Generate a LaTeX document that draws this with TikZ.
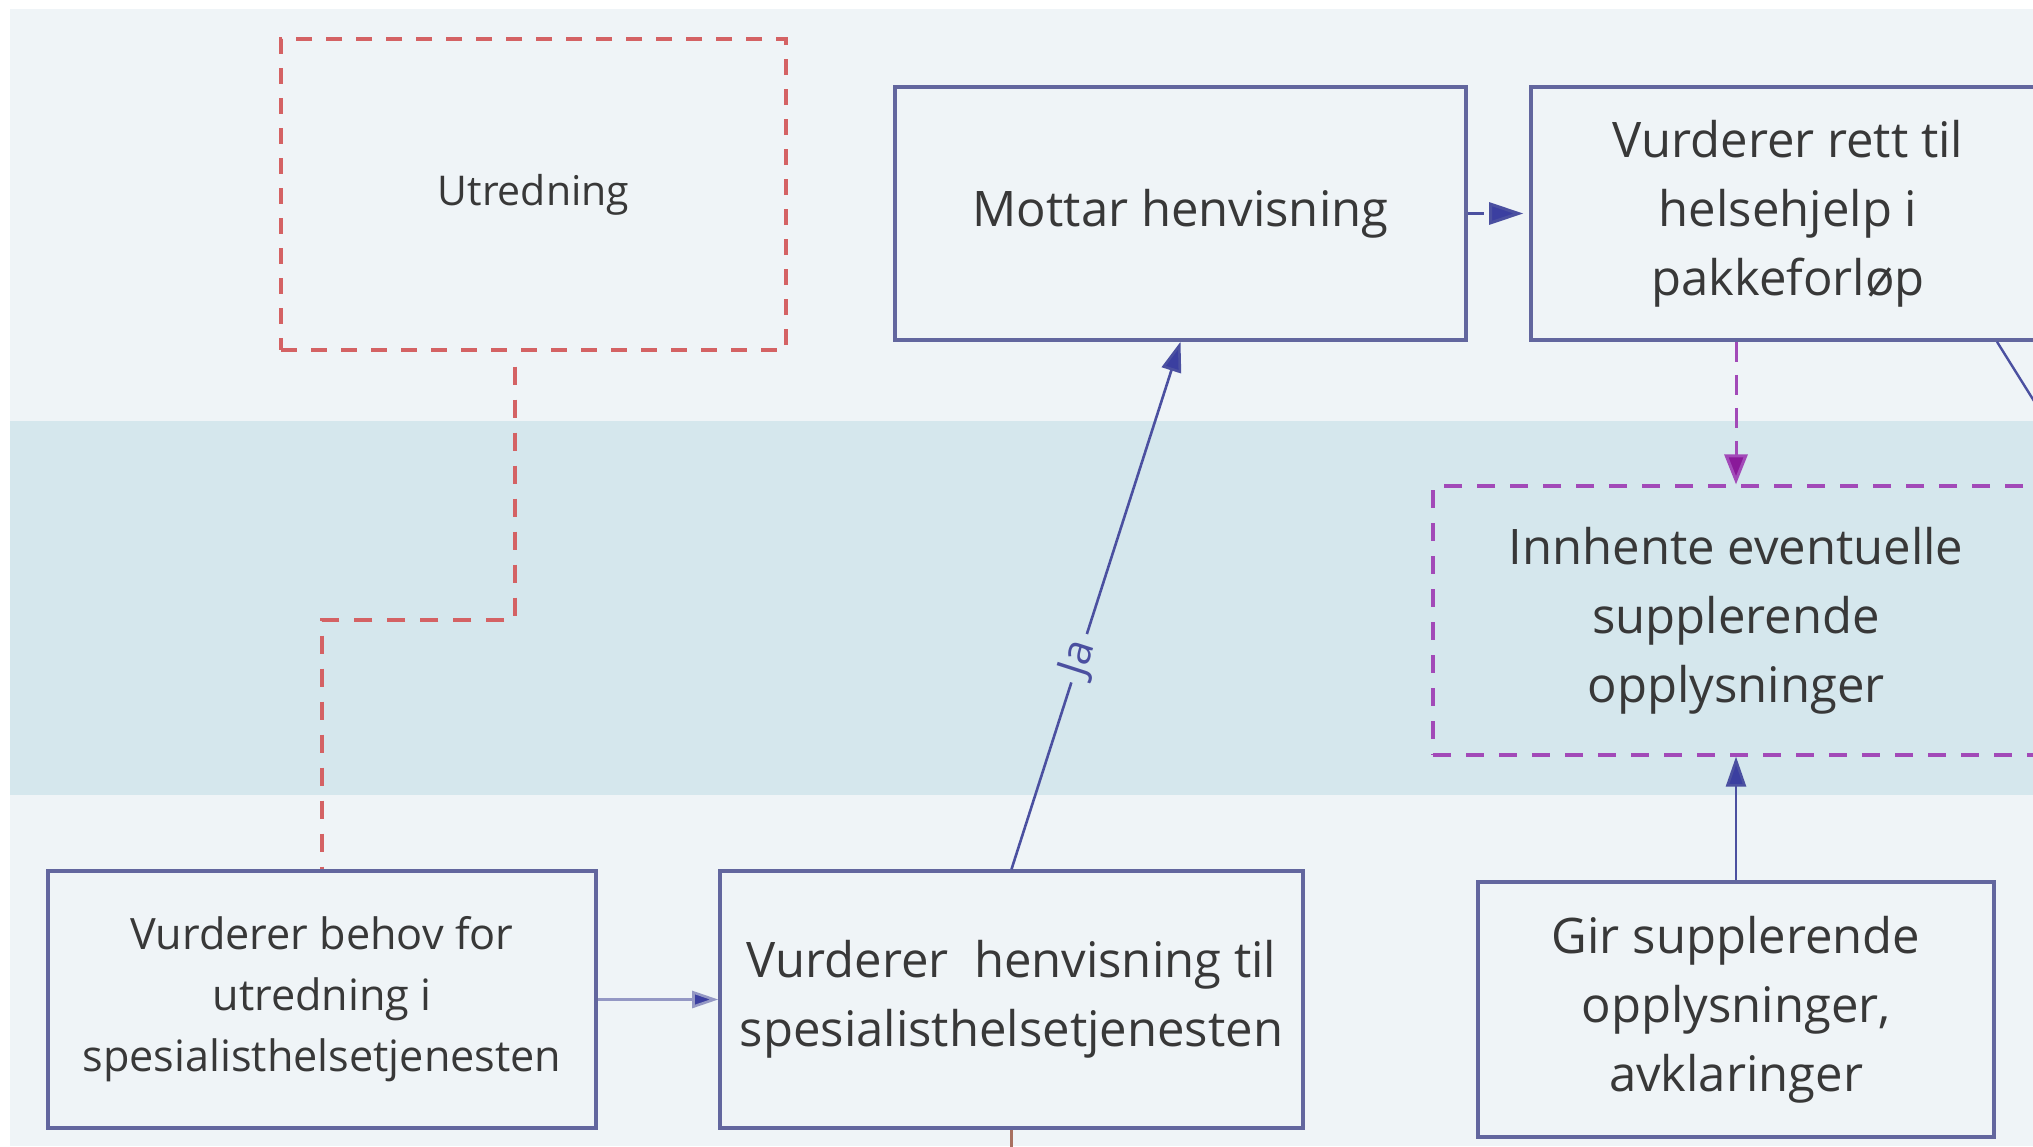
\documentclass[tikz,border=0pt]{standalone}
\usepackage{fontspec}
\setmainfont{Open Sans}
\usetikzlibrary{arrows.meta,calc}
\definecolor{bgc}{HTML}{EFF4F7}
\definecolor{bandc}{HTML}{D5E7ED}
\definecolor{boxc}{HTML}{62669E}
\definecolor{txtc}{HTML}{383838}
\definecolor{bluec}{HTML}{4B50A0}
\definecolor{tipc}{HTML}{3B3FA0}
\definecolor{lightblue}{HTML}{9498C4}
\definecolor{redc}{HTML}{D46264}
\definecolor{purpc}{HTML}{A24AB8}
\definecolor{purptip}{HTML}{8A1A9A}
\definecolor{brownc}{HTML}{A87060}
\newcommand\fsmain{\fontsize{24.5pt}{34.5pt}\selectfont}
\newcommand\fssmall{\fontsize{21.6pt}{30.5pt}\selectfont}
\newcommand\fsutr{\fontsize{20.5pt}{28pt}\selectfont}
\begin{document}
\begin{tikzpicture}[x=0.5pt,y=-0.5pt,
  box/.style={draw=boxc, line width=1.8pt, inner sep=0pt, align=center, text=txtc, font=\fsmain},
  redbox/.style={draw=redc, line width=1.7pt, dash pattern={on 8pt off 7pt}, inner sep=0pt, align=center, text=txtc, font=\fsutr},
  purpbox/.style={draw=purpc, line width=1.6pt, dash pattern={on 9pt off 7.5pt}, inner sep=0pt, align=center, text=txtc, font=\fsmain},
  bluearr/.style={draw=bluec, line width=1.3pt, -{Triangle[length=15pt,width=10pt,fill=tipc]}},
  thinarr/.style={draw=lightblue, line width=1.3pt, -{Triangle[length=13pt,width=8.5pt,fill=tipc]}},
  dasharr/.style={draw=bluec, line width=1.5pt, dash pattern={on 8pt off 6pt}, shorten >=3pt, -{Triangle[length=17pt,width=11pt,fill=tipc]}},
  purparr/.style={draw=purpc, line width=1.5pt, dash pattern={on 10pt off 6.5pt}, -{Triangle[length=15pt,width=11.5pt,fill=purptip]}},
  reddash/.style={draw=redc, line width=1.7pt, dash pattern={on 9pt off 7.5pt}, dash phase=9pt},
  ]
\useasboundingbox (0,0) rectangle (2033,1146);
\clip (0,0) rectangle (2033,1146);
\fill[white] (0,0) rectangle (2033,1146);
\fill[bgc] (10,9) rectangle (2033,1146);
\fill[bandc] (10,421) rectangle (2033,795);

\node[redbox, minimum width=252.5pt, minimum height=155.5pt] (utr) at (533.5,194.5) {Utredning};
\node[box, minimum width=285.5pt, minimum height=126.5pt] (mottar) at (1180.5,213.5) {Mottar henvisning};
\node[box, minimum width=257pt, minimum height=126.5pt] (vr) at (1788,213.5) {Vurderer rett til\\helsehjelp i\\pakkeforløp};
\node[purpbox, minimum width=303pt, minimum height=134.5pt] (innh) at (1736,620.5) {Innhente eventuelle\\supplerende\\opplysninger};
\node[box, font=\fssmall, minimum width=274pt, minimum height=128.5pt] (behov) at (322,999.5) {Vurderer behov for\\utredning i\\spesialisthelsetjenesten};
\node[box, minimum width=291.5pt, minimum height=128.5pt] (henv) at (1011.5,999.5) {Vurderer~~henvisning til\\spesialisthelsetjenesten};
\node[box, minimum width=258pt, minimum height=127.5pt] (gir) at (1736,1009.5) {Gir supplerende\\opplysninger,\\avklaringer};

% connectors
\coordinate (rr) at (515,620);
\draw[reddash] (rr |- utr.south) -- (rr) -| (behov.north);
\draw[thinarr] (behov.east) -- (henv.west);
\draw[bluearr] (henv.north) -- (mottar.south)
  node[sloped, pos=0.4, fill=bandc, inner sep=4pt, text=bluec, font=\fontsize{21pt}{24pt}\selectfont] {Ja};
\draw[dasharr] (mottar.east) -- (vr.west);
\draw[purparr] (innh.north |- vr.south) -- (innh.north);
\draw[bluearr] (gir.north) -- (innh.south);
\coordinate (dtop) at ($(vr.south)+(209,0)$);
\coordinate (dend) at ($(dtop)+(50,80)$);
\draw[draw=bluec, line width=1.2pt] (dtop) -- (dend);
\coordinate (hb) at ($(henv.south)+(0,30)$);
\draw[draw=brownc, line width=1.5pt] (henv.south) -- (hb);
\end{tikzpicture}
\end{document}
